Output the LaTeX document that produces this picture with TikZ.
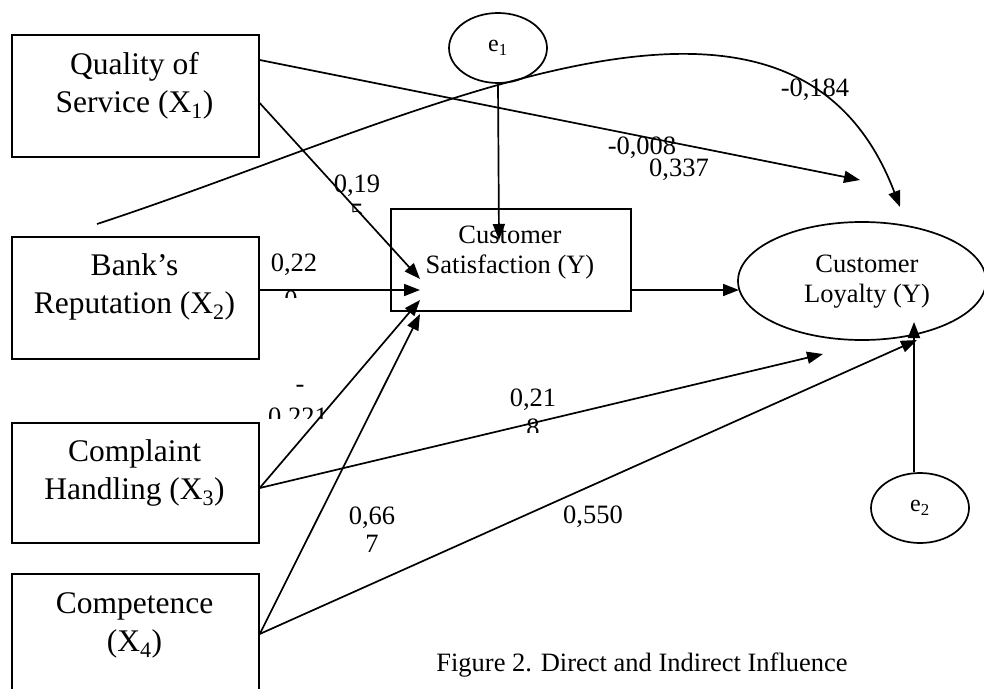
\documentclass[tikz,border=0pt]{standalone}
\usepackage{fontspec}
\setmainfont{Liberation Serif}
\usetikzlibrary{arrows.meta,shapes.geometric,calc}
\begin{document}
\begin{tikzpicture}[x=1pt,y=-1pt,
  lw/.style={line width=1.7pt},
  conn/.style={lw,-{Triangle[length=16pt,width=12pt]}},
  vbox/.style={draw,lw,rectangle,inner sep=0pt,anchor=north west,minimum width=247pt},
  btext/.style={anchor=north,inner sep=0pt,align=center,font=\fontsize{31.5}{38}\selectfont},
  stext/.style={anchor=north,inner sep=0pt,align=center,font=\fontsize{26.5}{30}\selectfont},
  lbl/.style={anchor=base,inner sep=0pt,font=\fontsize{26.5}{30}\selectfont},
  err/.style={draw,lw,ellipse,inner sep=0pt,minimum width=98pt,minimum height=70pt,font=\fontsize{24}{28}\selectfont}
]
\clip (0,0) rectangle (984,688);
\fill[white] (0,0) rectangle (984,688);

% boxes
\node[vbox,minimum height=122pt] (x1) at (11,34) {};
\node[vbox,minimum height=122pt] (x2) at (11,236) {};
\node[vbox,minimum height=120pt] (x3) at (11,422) {};
\node[vbox,minimum height=140pt] (x4) at (11,573) {};
\node[btext] (x1t) at (134.5,34) {\rule{0pt}{40pt}Quality of\\Service (X\textsubscript{1})};
\node[btext] (x2t) at (134.5,236) {\rule{0pt}{39pt}Bank’s\\Reputation (X\textsubscript{2})};
\node[btext] (x3t) at (134.5,422) {\rule{0pt}{39pt}Complaint\\Handling (X\textsubscript{3})};
\node[btext] (x4t) at (134.5,573) {\rule{0pt}{40pt}Competence\\(X\textsubscript{4})};

\node[draw,lw,rectangle,inner sep=0pt,minimum width=240pt,minimum height=102pt,anchor=north west] (sat) at (390,208) {};
\node[stext] (satt) at (510,208) {\rule{0pt}{35pt}Customer\\Satisfaction (Y)};

\node[draw,lw,ellipse,inner sep=0pt,minimum width=248pt,minimum height=118pt] (loy) at (862,281) {};
\node[stext] (loyt) at (867,242) {\rule{0pt}{30pt}Customer\\Loyalty (Y)};

\node[err] (e1) at (498,48) {e\textsubscript{1}};
\node[err] (e2) at (920,508) {e\textsubscript{2}};

% labels
\node[lbl] (l1) at (357,192) {0,19};
\begin{scope}
  \clip (330,190) rectangle (390,213);
  \node[lbl] (l1b) at (357,221) {5};
\end{scope}
\node[lbl] (l2) at (294,271) {0,22};
\begin{scope}
  \clip (270,280) rectangle (320,297);
  \node[lbl] (l2b) at (291,308) {0};
\end{scope}
\node[lbl] (l3) at (300,392) {-};
\begin{scope}
  \clip (260,395) rectangle (340,418);
  \node[lbl] (l3b) at (298,425) {0,221};
\end{scope}
\node[lbl] (l4) at (533,406) {0,21};
\begin{scope}
  \clip (510,412) rectangle (560,432);
  \node[lbl] (l4b) at (533,436) {8};
\end{scope}
\node[lbl] (l5) at (372,524) {0,66};
\node[lbl] (l5b) at (372,552) {7};
\node[lbl] (l6) at (593,523) {0,550};
\node[lbl] (l7) at (642,154) {-0,008};
\node[lbl] (l8) at (679,176) {0,337};
\node[lbl] (l9) at (815,96) {-0,184};
\node[lbl] (cap) at (642,671) {Figure 2. Direct and Indirect Influence};

% free ends
\coordinate (t1) at (860,180);
\coordinate (t2) at (420,279);
\coordinate (t3) at (420,290);
\coordinate (t4) at (739,290);
\coordinate (t5) at (499,240);
\coordinate (t6) at (420,300);
\coordinate (t7) at (823,354);
\coordinate (t8) at (420,314);
\coordinate (t9) at (917,340);
\coordinate (t10) at (914,322);
\coordinate (t11) at (900,207);
\coordinate (c0) at (97,224);

% connectors
\draw[conn] ($(x1.north east)+(0,26)$) -- (t1);
\draw[conn] ($(x1.north east)+(0,69)$) -- (t2);
\draw[conn] ($(x2.north east)+(0,54)$) -- (t3);
\draw[conn] ($(sat.north east)+(0,82)$) -- (t4);
\draw[conn] (e1.south) -- (t5);
\draw[conn] ($(x3.north east)+(0,66)$) -- (t6);
\draw[conn] ($(x3.north east)+(0,66)$) -- (t7);
\draw[conn] ($(x4.north east)+(0,61)$) -- (t8);
\draw[conn] ($(x4.north east)+(0,61)$) -- (t9);
\draw[conn] ($(e2.north)+(-6,0)$) -- (t10);
\draw[conn] (c0) .. controls (420,118) and (790,-82) .. (t11);
\end{tikzpicture}
\end{document}
